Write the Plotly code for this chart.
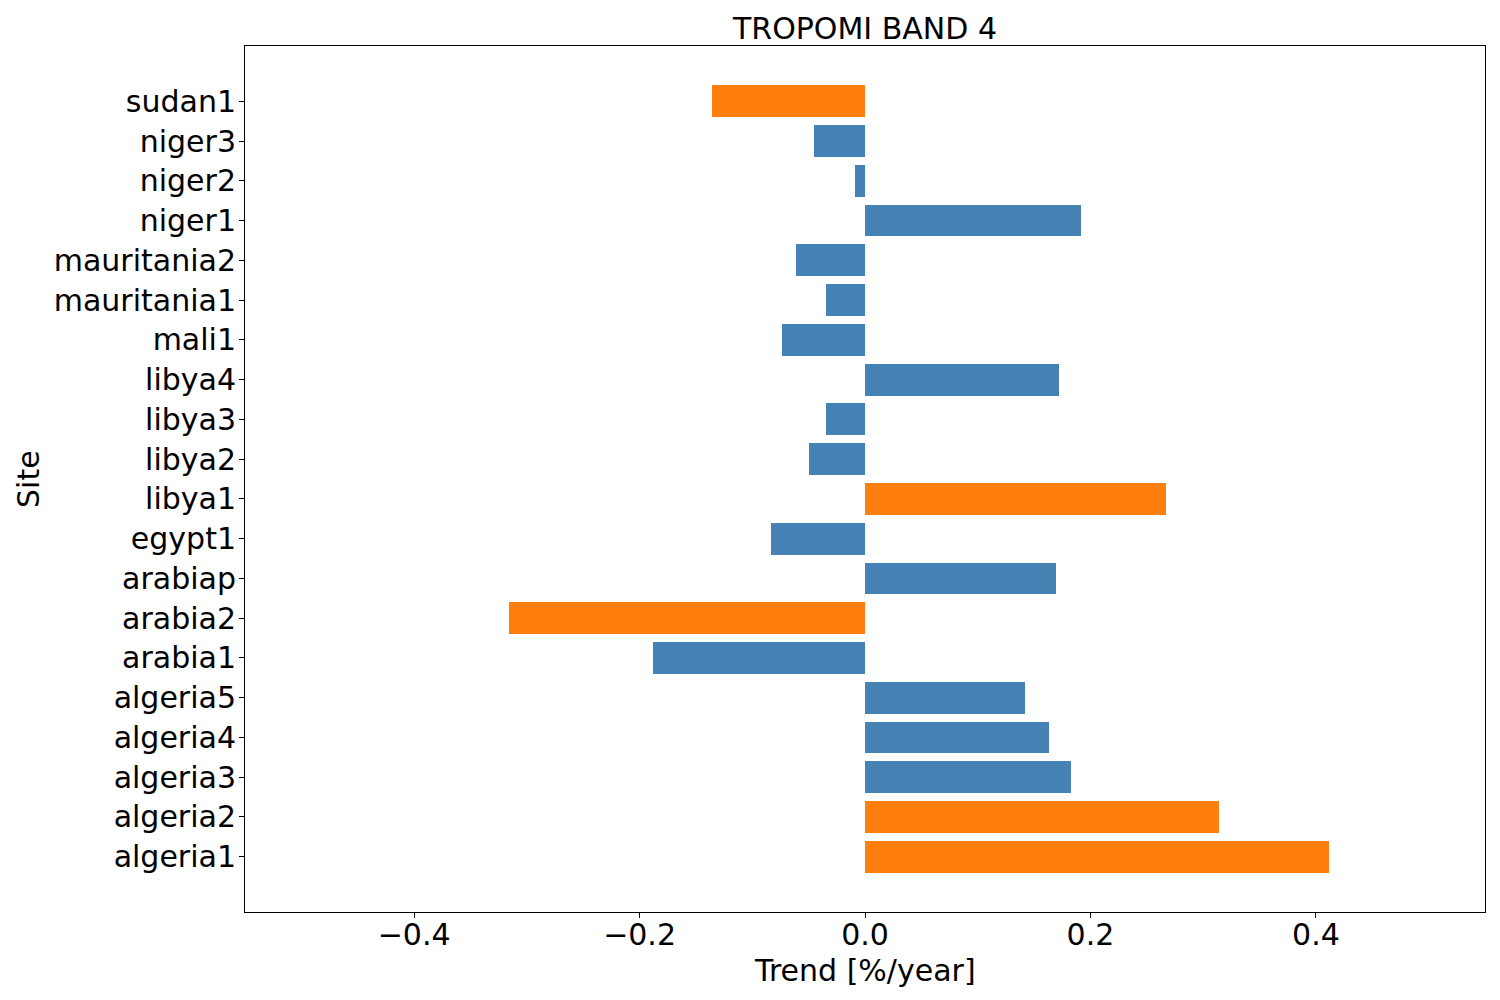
import plotly.graph_objects as go

sites = ["algeria1", "algeria2", "algeria3", "algeria4", "algeria5", "arabia1", "arabia2",
         "arabiap", "egypt1", "libya1", "libya2", "libya3", "libya4", "mali1", "mauritania1",
         "mauritania2", "niger1", "niger2", "niger3", "sudan1"]
trends = [0.412, 0.314, 0.183, 0.163, 0.142, -0.188, -0.316,
          0.169, -0.083, 0.267, -0.050, -0.035, 0.172, -0.074, -0.035,
          -0.061, 0.192, -0.009, -0.045, -0.136]
highlight = [True, True, False, False, False, False, True,
             False, False, True, False, False, False, False, False,
             False, False, False, False, True]
xtick_vals = [-0.4, -0.2, 0.0, 0.2, 0.4]
xtick_text = ["−0.4", "−0.2", "0.0", "0.2", "0.4"]

colors = ["#ff7f0e" if h else "#4682b4" for h in highlight]
ypos = list(range(len(sites)))

fig = go.Figure(go.Bar(
    x=trends, y=ypos, orientation="h", width=0.8,
    marker=dict(color=colors, line=dict(width=0)),
))

font = "DejaVu Sans"
fs = 30
fig.update_layout(
    width=1500, height=1000,
    margin=dict(l=245, r=15, t=46, b=88),
    paper_bgcolor="white", plot_bgcolor="white",
    font=dict(family=font, size=fs, color="black"),
    title=dict(text="TROPOMI BAND 4", x=0.5, xref="paper", xanchor="center",
               y=1-28/1000, yanchor="middle", font=dict(size=fs)),
    showlegend=False,
    bargap=0,
    annotations=[
        dict(text="Trend [%/year]", xref="paper", yref="paper", x=0.5,
             y=(912-970)/866, xanchor="center", yanchor="middle",
             showarrow=False, font=dict(size=fs)),
        dict(text="Site", xref="paper", yref="paper", x=(28-245)/1240,
             y=0.5, xanchor="center", yanchor="middle", textangle=-90,
             showarrow=False, font=dict(size=fs)),
    ],
)
fig.update_xaxes(
    range=[-0.55, 0.55], tickvals=xtick_vals, ticktext=xtick_text,
    ticks="outside", ticklen=5, tickwidth=1, tickcolor="black",
    ticklabelstandoff=-9,
    showline=True, linecolor="black", linewidth=1, mirror=True,
    showgrid=False, zeroline=False,
)
fig.update_yaxes(
    range=[-1.39, 20.39], tickvals=ypos, ticktext=sites,
    ticks="outside", ticklen=5, tickwidth=1, tickcolor="black",
    ticklabelstandoff=-3,
    showline=True, linecolor="black", linewidth=1, mirror=True,
    showgrid=False, zeroline=False,
)

fig.write_html("out.html")
